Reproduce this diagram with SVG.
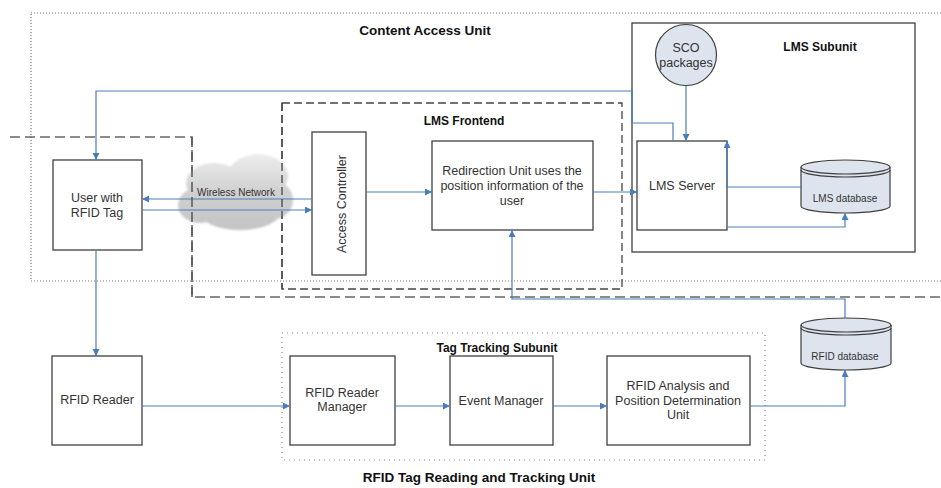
<svg xmlns="http://www.w3.org/2000/svg" width="941" height="488" viewBox="0 0 941 488">
<style>
.box{fill:#fff;stroke:#3f3f3f;stroke-width:1.3}
.t{font-family:"Liberation Sans",Arial,sans-serif;font-size:12.5px;fill:#333;text-anchor:middle}
.s{font-size:10px}
.b{font-family:"Liberation Sans",Arial,sans-serif;font-weight:bold;fill:#111;text-anchor:middle}
.c{fill:none;stroke:#4a7ebb;stroke-width:1.2}
.a{marker-end:url(#ah)}
.db{fill:#dde4ee;stroke:#3f3f3f;stroke-width:1.2}
</style>
<defs>
<marker id="ah" markerUnits="userSpaceOnUse" markerWidth="8" markerHeight="8" refX="7" refY="3.5" orient="auto">
<path d="M0,0 L7,3.5 L0,7 z" fill="#4a7ebb"/>
</marker>
<linearGradient id="cg" gradientUnits="userSpaceOnUse" x1="0" y1="153" x2="0" y2="232">
<stop offset="0" stop-color="#eeeeee"/>
<stop offset="0.5" stop-color="#d0d0d0"/>
<stop offset="1" stop-color="#c4c4c4"/>
</linearGradient>
<filter id="bl" x="-10%" y="-10%" width="120%" height="120%"><feGaussianBlur stdDeviation="1.2"/></filter>
</defs>
<rect width="941" height="488" fill="#fff"/>

<!-- region outlines -->
<g id="content-access-unit">
<rect x="31" y="13" width="930" height="268" fill="none" stroke="#777" stroke-width="1.2" stroke-dasharray="1 2"/>
<text class="b" x="425" y="35" font-size="13.5">Content Access Unit</text>
</g>
<g id="rfid-unit-outline">
<path d="M10,137 H192 V297 H941" fill="none" stroke="#666" stroke-width="1.5" stroke-dasharray="10 5"/>
<text class="b" x="479" y="482" font-size="13.5">RFID Tag Reading and Tracking Unit</text>
</g>
<g id="lms-frontend">
<rect x="282" y="103" width="340" height="186" fill="none" stroke="#444" stroke-width="1.3" stroke-dasharray="8 4"/>
<text class="b" x="464" y="125" font-size="12">LMS Frontend</text>
</g>
<g id="lms-subunit">
<rect x="632" y="23" width="283" height="229" fill="none" stroke="#3f3f3f" stroke-width="1.3"/>
<text class="b" x="820" y="51" font-size="12">LMS Subunit</text>
</g>
<g id="tag-tracking-subunit">
<rect x="282" y="333" width="483" height="127" fill="none" stroke="#888" stroke-width="1.2" stroke-dasharray="1 4"/>
<text class="b" x="497" y="352" font-size="12">Tag Tracking Subunit</text>
</g>

<!-- cloud -->
<g id="wireless-network">
<g filter="url(#bl)" fill="url(#cg)">
<ellipse cx="214" cy="183" rx="28" ry="20"/>
<ellipse cx="258" cy="176" rx="30" ry="22"/>
<ellipse cx="200" cy="205" rx="22" ry="18"/>
<ellipse cx="240" cy="210" rx="42" ry="20"/>
<ellipse cx="274" cy="200" rx="19" ry="19"/>
</g>
<text class="t s" x="236" y="196">Wireless Network</text>
</g>

<!-- nodes -->
<g id="user">
<rect class="box" x="53" y="160" width="89" height="90"/>
<text class="t" x="97" y="202">User with</text>
<text class="t" x="97" y="217">RFID Tag</text>
</g>
<g id="access-controller">
<rect class="box" x="312" y="132" width="54" height="143"/>
<text class="t" transform="translate(346,204) rotate(-90)">Access Controller</text>
</g>
<g id="redirection-unit">
<rect class="box" x="432" y="141" width="161" height="89"/>
<text class="t" x="512" y="175">Redirection Unit uses the</text>
<text class="t" x="512" y="190">position information of the</text>
<text class="t" x="512" y="205">user</text>
</g>
<g id="sco-packages">
<circle cx="686" cy="55" r="30.5" fill="#dde4ee" stroke="#3f3f3f" stroke-width="1.2"/>
<text class="t" x="686" y="52">SCO</text>
<text class="t" x="686" y="67">packages</text>
</g>
<g id="lms-server">
<rect class="box" x="637" y="141" width="90" height="89"/>
<text class="t" x="682" y="190">LMS Server</text>
</g>
<g id="lms-database">
<path class="db" d="M801,167 A44.5,7 0 0 1 890,167 V206 A44.5,7 0 0 1 801,206 Z"/>
<path d="M801,167 A44.5,7 0 0 0 890,167" fill="none" stroke="#3f3f3f" stroke-width="1.2"/>
<path d="M801,170 A44.5,7 0 0 0 890,170" fill="none" stroke="#3f3f3f" stroke-width="1.2"/>
<text class="t s" x="845" y="202">LMS database</text>
</g>
<g id="rfid-database">
<path class="db" d="M801,325 A45,7 0 0 1 891,325 V363 A45,7 0 0 1 801,363 Z"/>
<path d="M801,325 A45,7 0 0 0 891,325" fill="none" stroke="#3f3f3f" stroke-width="1.2"/>
<path d="M801,328 A45,7 0 0 0 891,328" fill="none" stroke="#3f3f3f" stroke-width="1.2"/>
<text class="t s" x="845" y="360">RFID database</text>
</g>
<g id="rfid-reader">
<rect class="box" x="52" y="356" width="90" height="89"/>
<text class="t" x="97" y="404">RFID Reader</text>
</g>
<g id="rfid-reader-manager">
<rect class="box" x="290" y="356" width="105" height="89"/>
<text class="t" x="342" y="397">RFID Reader</text>
<text class="t" x="342" y="411">Manager</text>
</g>
<g id="event-manager">
<rect class="box" x="450" y="356" width="103" height="89"/>
<text class="t" x="501" y="405">Event Manager</text>
</g>
<g id="rfid-analysis">
<rect class="box" x="607" y="356" width="143" height="89"/>
<text class="t" x="678" y="390">RFID Analysis and</text>
<text class="t" x="678" y="405">Position Determination</text>
<text class="t" x="678" y="419">Unit</text>
</g>

<!-- connectors -->
<g id="connectors">
<path class="c a" d="M673,141 V123 H632 V91 H96 V160"/>
<path class="c a" d="M686,86 V141"/>
<path class="c a" d="M801,187 H727 V141"/>
<path class="c a" d="M727,227 H845 V213"/>
<path class="c a" d="M366,192 H432"/>
<path class="c a" d="M593,192 H637"/>
<path class="c a" d="M312,199 H142"/>
<path class="c a" d="M142,210 H312"/>
<path class="c a" d="M96,250 V356"/>
<path class="c a" d="M142,406 H290"/>
<path class="c a" d="M395,406 H450"/>
<path class="c a" d="M553,406 H607"/>
<path class="c a" d="M750,406 H845 V370"/>
<path class="c a" d="M845,318 V299 H512 V230"/>
</g>
<!-- overlay the dashed lines crossing the cloud -->
<path d="M192,137 V297" fill="none" stroke="#555" stroke-width="1.5" stroke-dasharray="10 5"/>
<path d="M282,103 V289" fill="none" stroke="#444" stroke-width="1.3" stroke-dasharray="8 4"/>
</svg>
